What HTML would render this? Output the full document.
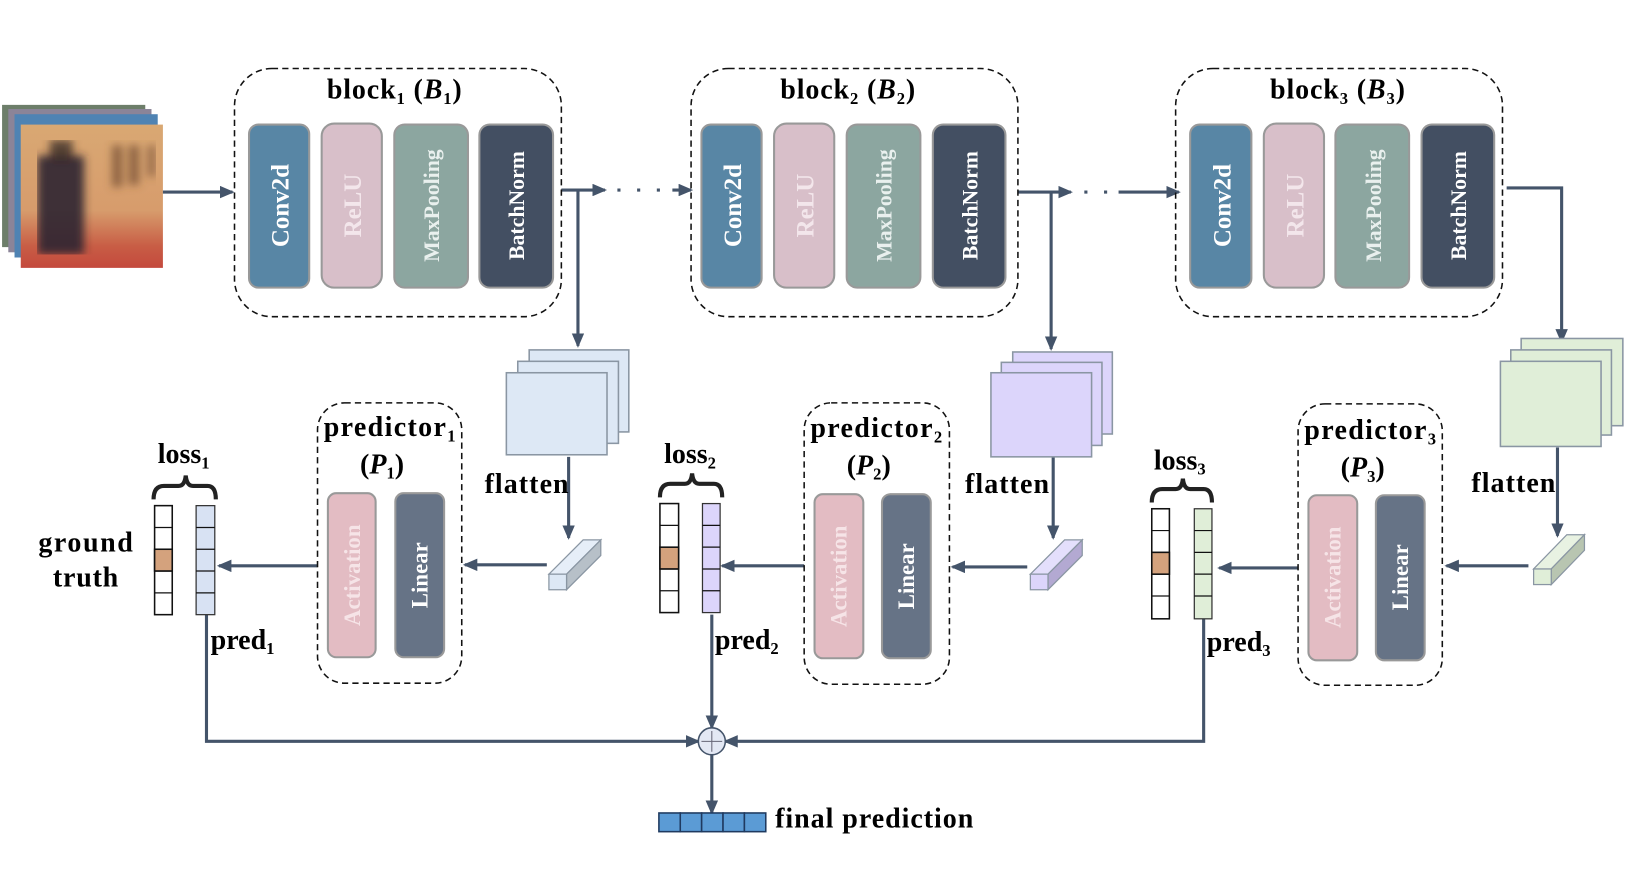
<!DOCTYPE html>
<html><head><meta charset="utf-8"><style>html,body{margin:0;padding:0;background:#fff;}svg{display:block;}</style></head><body>
<svg width="1627" height="895" viewBox="0 0 1568 862" preserveAspectRatio="none" xmlns="http://www.w3.org/2000/svg" font-family="Liberation Serif, serif">
<defs>
<marker id="ah" markerWidth="14" markerHeight="12" refX="12" refY="6" orient="auto" markerUnits="userSpaceOnUse"><path d="M0,0 L14,6 L0,12 z" fill="#44546a"/></marker>
<linearGradient id="img" x1="0" y1="0" x2="0" y2="1"><stop offset="0" stop-color="#d9a873"/><stop offset="0.6" stop-color="#d79c6c"/><stop offset="0.85" stop-color="#c85d45"/><stop offset="1" stop-color="#c4493d"/></linearGradient>
<filter id="bl" x="0" y="0" width="1" height="1"><feGaussianBlur stdDeviation="4"/></filter>
<clipPath id="fc"><rect x="20" y="120" width="137" height="138"/></clipPath>
</defs>
<!-- input stack -->
<rect x="2" y="101" width="138" height="137" fill="#6d7e6a"/>
<rect x="8" y="105" width="138" height="138" fill="#8b8498"/>
<rect x="14" y="110" width="138" height="138" fill="#4f83b3"/>
<rect x="20" y="120" width="137" height="138" fill="url(#img)"/>
<g clip-path="url(#fc)"><g filter="url(#bl)">
<rect x="36" y="150" width="45" height="95" fill="#2b2230" opacity="0.9"/>
<rect x="48" y="135" width="22" height="20" fill="#3a2a25" opacity="0.8"/>
<rect x="108" y="140" width="10" height="40" fill="#6e4a30" opacity="0.7"/>
<rect x="124" y="140" width="10" height="38" fill="#6e4a30" opacity="0.7"/>
<rect x="142" y="140" width="8" height="30" fill="#6e4a30" opacity="0.6"/>
</g></g>
<g stroke="#44546a" stroke-width="3" fill="none">
<line x1="157" y1="185" x2="224" y2="185" marker-end="url(#ah)"/>
<line x1="541" y1="183" x2="583" y2="183" marker-end="url(#ah)"/>
<line x1="557" y1="183" x2="557" y2="333" marker-end="url(#ah)"/>
<line x1="595" y1="183" x2="640" y2="183" stroke-dasharray="3 16"/>
<line x1="648" y1="183" x2="666" y2="183" marker-end="url(#ah)"/>
<line x1="981" y1="185" x2="1032" y2="185" marker-end="url(#ah)"/>
<line x1="1013" y1="185" x2="1013" y2="336" marker-end="url(#ah)"/>
<line x1="1045" y1="185" x2="1072" y2="185" stroke-dasharray="3 16"/>
<line x1="1078" y1="185" x2="1136" y2="185" marker-end="url(#ah)"/>
<polyline points="1452,181 1505,181 1505,329" marker-end="url(#ah)"/>
<line x1="548" y1="440" x2="548" y2="518" marker-end="url(#ah)"/>
<line x1="1015" y1="440" x2="1015" y2="518" marker-end="url(#ah)"/>
<line x1="1501" y1="431" x2="1501" y2="516" marker-end="url(#ah)"/>
<line x1="527" y1="544" x2="448" y2="544" marker-end="url(#ah)"/>
<line x1="990" y1="546" x2="918" y2="546" marker-end="url(#ah)"/>
<line x1="1473" y1="545" x2="1394" y2="545" marker-end="url(#ah)"/>
<line x1="306" y1="545" x2="211" y2="545" marker-end="url(#ah)"/>
<line x1="775" y1="545" x2="696" y2="545" marker-end="url(#ah)"/>
<line x1="1251" y1="547" x2="1175" y2="547" marker-end="url(#ah)"/>
<polyline points="199,592 199,714 673,714" marker-end="url(#ah)"/>
<line x1="686" y1="592" x2="686" y2="701" marker-end="url(#ah)"/>
<polyline points="1160,596 1160,714 699,714" marker-end="url(#ah)"/>
<line x1="686" y1="727" x2="686" y2="783" marker-end="url(#ah)"/>
</g>
<!-- blocks -->
<g fill="none" stroke="#111" stroke-width="1.5" stroke-dasharray="6 4">
<rect x="226" y="66" width="315" height="239" rx="36"/>
<rect x="666" y="66" width="315" height="239" rx="36"/>
<rect x="1133" y="66" width="315" height="239" rx="36"/>
<rect x="306" y="388" width="139" height="270" rx="26"/>
<rect x="775" y="388" width="140" height="271" rx="26"/>
<rect x="1251" y="389" width="139" height="271" rx="26"/>
</g>
<g font-weight="bold" font-size="27" fill="#000">
<text x="315" y="95" textLength="130">block<tspan font-size="16" dy="5">1</tspan><tspan dy="-5"> (</tspan><tspan font-style="italic">B</tspan><tspan font-size="16" dy="5">1</tspan><tspan dy="-5">)</tspan></text>
<text x="752" y="95" textLength="130">block<tspan font-size="16" dy="5">2</tspan><tspan dy="-5"> (</tspan><tspan font-style="italic">B</tspan><tspan font-size="16" dy="5">2</tspan><tspan dy="-5">)</tspan></text>
<text x="1224" y="95" textLength="130">block<tspan font-size="16" dy="5">3</tspan><tspan dy="-5"> (</tspan><tspan font-style="italic">B</tspan><tspan font-size="16" dy="5">3</tspan><tspan dy="-5">)</tspan></text>
<text x="312" y="420" textLength="127">predictor<tspan font-size="16" dy="5">1</tspan></text>
<text x="347" y="456">(<tspan font-style="italic">P</tspan><tspan font-size="16" dy="5">1</tspan><tspan dy="-5">)</tspan></text>
<text x="781" y="421" textLength="127">predictor<tspan font-size="16" dy="5">2</tspan></text>
<text x="816" y="457">(<tspan font-style="italic">P</tspan><tspan font-size="16" dy="5">2</tspan><tspan dy="-5">)</tspan></text>
<text x="1257" y="423" textLength="127">predictor<tspan font-size="16" dy="5">3</tspan></text>
<text x="1292" y="459">(<tspan font-style="italic">P</tspan><tspan font-size="16" dy="5">3</tspan><tspan dy="-5">)</tspan></text>
<text x="152" y="446">loss<tspan font-size="16" dy="5">1</tspan></text>
<text x="640" y="446">loss<tspan font-size="16" dy="5">2</tspan></text>
<text x="1112" y="452">loss<tspan font-size="16" dy="5">3</tspan></text>
<text x="37" y="531" textLength="91">ground</text>
<text x="51" y="565" textLength="63">truth</text>
<text x="467" y="475" textLength="81">flatten</text>
<text x="930" y="475" textLength="81">flatten</text>
<text x="1418" y="474" textLength="81">flatten</text>
<text x="203" y="625">pred<tspan font-size="16" dy="5">1</tspan></text>
<text x="689" y="625">pred<tspan font-size="16" dy="5">2</tspan></text>
<text x="1163" y="627">pred<tspan font-size="16" dy="5">3</tspan></text>
<text x="747" y="797" textLength="191">final prediction</text>
</g>
<!-- layer boxes -->
<g stroke="#999" stroke-width="2">
<rect x="240" y="120" width="58" height="157" rx="9" fill="#5886a5"/>
<rect x="310" y="119" width="58" height="158" rx="12" fill="#d8bfc9"/>
<rect x="380" y="120" width="71" height="157" rx="10" fill="#8ca6a0"/>
<rect x="462" y="120" width="71" height="157" rx="10" fill="#434f62"/>
<rect x="676" y="120" width="58" height="157" rx="9" fill="#5886a5"/>
<rect x="746" y="119" width="58" height="158" rx="12" fill="#d8bfc9"/>
<rect x="816" y="120" width="71" height="157" rx="10" fill="#8ca6a0"/>
<rect x="899" y="120" width="70" height="157" rx="10" fill="#434f62"/>
<rect x="1147" y="120" width="59" height="157" rx="9" fill="#5886a5"/>
<rect x="1218" y="119" width="58" height="158" rx="12" fill="#d8bfc9"/>
<rect x="1287" y="120" width="71" height="157" rx="10" fill="#8ca6a0"/>
<rect x="1370" y="120" width="70" height="157" rx="10" fill="#434f62"/>
<rect x="316" y="475" width="46" height="158" rx="8" fill="#e3bcc3"/>
<rect x="381" y="475" width="47" height="158" rx="8" fill="#667386"/>
<rect x="785" y="476" width="47" height="158" rx="8" fill="#e3bcc3"/>
<rect x="850" y="476" width="47" height="158" rx="8" fill="#667386"/>
<rect x="1261" y="477" width="47" height="159" rx="8" fill="#e3bcc3"/>
<rect x="1326" y="477" width="47" height="159" rx="8" fill="#667386"/>
</g>
<g font-weight="bold" font-size="24" text-anchor="middle">
<text transform="translate(278,198) rotate(-90)" fill="#fff">Conv2d</text>
<text transform="translate(348,198) rotate(-90)" fill="#f3e6eb">ReLU</text>
<text transform="translate(423,198) rotate(-90)" fill="#e9f0ee" font-size="21">MaxPooling</text>
<text transform="translate(505,198) rotate(-90)" fill="#fff" font-size="21">BatchNorm</text>
<text transform="translate(714,198) rotate(-90)" fill="#fff">Conv2d</text>
<text transform="translate(784,198) rotate(-90)" fill="#f3e6eb">ReLU</text>
<text transform="translate(859,198) rotate(-90)" fill="#e9f0ee" font-size="21">MaxPooling</text>
<text transform="translate(942,198) rotate(-90)" fill="#fff" font-size="21">BatchNorm</text>
<text transform="translate(1186,198) rotate(-90)" fill="#fff">Conv2d</text>
<text transform="translate(1256,198) rotate(-90)" fill="#f3e6eb">ReLU</text>
<text transform="translate(1331,198) rotate(-90)" fill="#e9f0ee" font-size="21">MaxPooling</text>
<text transform="translate(1413,198) rotate(-90)" fill="#fff" font-size="21">BatchNorm</text>
<text transform="translate(347,554) rotate(-90)" fill="#f6e4e7" font-size="22">Activation</text>
<text transform="translate(412,554) rotate(-90)" fill="#fff" font-size="22">Linear</text>
<text transform="translate(816,555) rotate(-90)" fill="#f6e4e7" font-size="22">Activation</text>
<text transform="translate(881,555) rotate(-90)" fill="#fff" font-size="22">Linear</text>
<text transform="translate(1292,556) rotate(-90)" fill="#f6e4e7" font-size="22">Activation</text>
<text transform="translate(1357,556) rotate(-90)" fill="#fff" font-size="22">Linear</text>
</g>
<!-- feature stacks -->
<g stroke="#8a96a3" stroke-width="1.5">
<rect x="510" y="337" width="96" height="79" fill="#dde8f5"/>
<rect x="499" y="348" width="97" height="79" fill="#dde8f5"/>
<rect x="488" y="359" width="97" height="79" fill="#dde8f5"/>
<rect x="976" y="339" width="96" height="79" fill="#dcd5fb"/>
<rect x="965" y="349" width="97" height="80" fill="#dcd5fb"/>
<rect x="955" y="359" width="97" height="81" fill="#dcd5fb"/>
<rect x="1466" y="326" width="98" height="84" fill="#e0eed8"/>
<rect x="1456" y="337" width="97" height="82" fill="#e0eed8"/>
<rect x="1446" y="348" width="97" height="82" fill="#e0eed8"/>
</g>
<!-- flattened bars -->
<g stroke="#8a96a3" stroke-width="1.2">
<polygon points="529,553 562,520 579,520 546,553" fill="#e6eef8"/>
<polygon points="546,553 579,520 579,535 546,568" fill="#b7c0c8"/>
<rect x="529" y="553" width="17" height="15" fill="#dde8f5"/>
<polygon points="993,553 1026,520 1043,520 1010,553" fill="#e4dffc"/>
<polygon points="1010,553 1043,520 1043,535 1010,568" fill="#b3a9d2"/>
<rect x="993" y="553" width="17" height="15" fill="#dcd5fb"/>
<polygon points="1478,548 1510,515 1527,515 1495,548" fill="#e8f2e2"/>
<polygon points="1495,548 1527,515 1527,530 1495,563" fill="#b8c5b1"/>
<rect x="1478" y="548" width="17" height="15" fill="#e0eed8"/>
</g>
<!-- vectors -->
<g stroke="#111" stroke-width="1.5">
<rect x="149" y="487" width="17" height="105" fill="#fff"/>
<rect x="149" y="529" width="17" height="21" fill="#d4a27d"/>
<rect x="636" y="485" width="18" height="105" fill="#fff"/>
<rect x="636" y="527" width="18" height="21" fill="#d4a27d"/>
<rect x="1110" y="490" width="17" height="106" fill="#fff"/>
<rect x="1110" y="532" width="17" height="21" fill="#d4a27d"/>
</g>
<g stroke="#333" stroke-width="1.2">
<rect x="189" y="487" width="18" height="105" fill="#d8e2f3"/>
<rect x="677" y="485" width="17" height="105" fill="#dcd5fb"/>
<rect x="1151" y="490" width="17" height="106" fill="#e0eed8"/>
</g>
<g stroke="#111" stroke-width="1.2">
<path d="M149,508h17M149,529h17M149,550h17M149,571h17M189,508h18M189,529h18M189,550h18M189,571h18"/>
<path d="M636,506h18M636,527h18M636,548h18M636,569h18M677,506h17M677,527h17M677,548h17M677,569h17"/>
<path d="M1110,511h17M1110,532h17M1110,553h17M1110,574h17M1151,511h17M1151,532h17M1151,553h17M1151,574h17"/>
</g>
<!-- braces -->
<g fill="none" stroke="#222" stroke-width="4">
<path d="M148,481 Q148,468 158,468 L172,468 Q178,468 179,458 Q180,468 186,468 L200,468 Q208,468 208,481"/>
<path d="M636,479 Q636,466 646,466 L660,466 Q666,466 667,456 Q668,466 674,466 L688,466 Q696,466 696,479"/>
<path d="M1110,484 Q1110,471 1120,471 L1133,471 Q1139,471 1140,461 Q1141,471 1147,471 L1160,471 Q1168,471 1168,484"/>
</g>
<!-- sum -->
<circle cx="686" cy="714" r="13" fill="#e3e8f4" stroke="#44546a" stroke-width="1.5"/>
<path d="M676,714h20M686,704v20" stroke="#667" stroke-width="1"/>
<!-- final -->
<g stroke="#1f3a60" stroke-width="1.5" fill="#5b9bd5">
<rect x="635" y="783" width="20.6" height="18"/><rect x="655.6" y="783" width="20.6" height="18"/><rect x="676.2" y="783" width="20.6" height="18"/><rect x="696.8" y="783" width="20.6" height="18"/><rect x="717.4" y="783" width="20.6" height="18"/>
</g>
</svg>
</body></html>
